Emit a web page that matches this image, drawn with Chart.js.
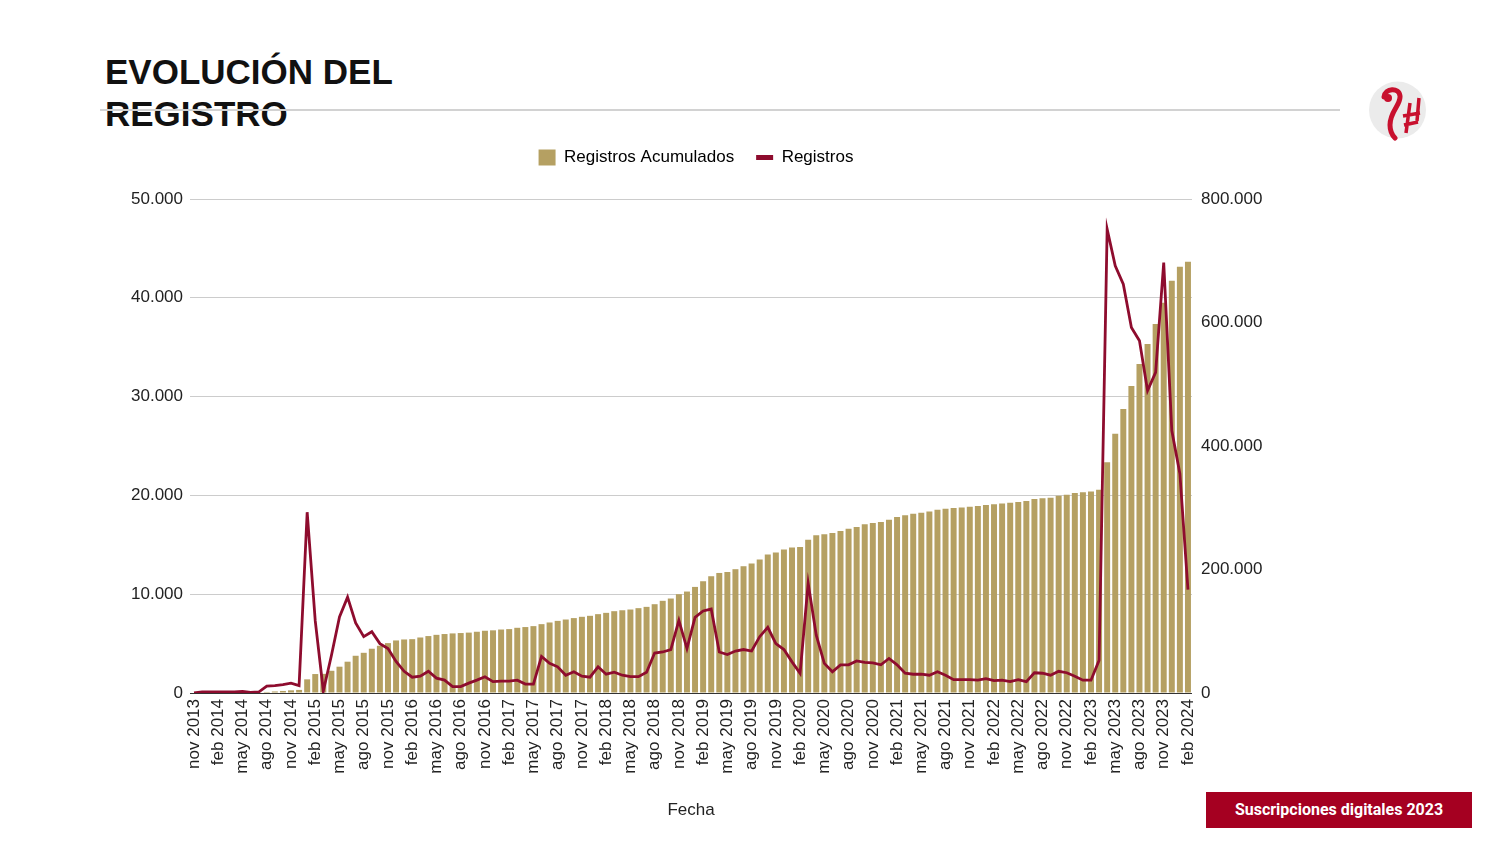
<!DOCTYPE html>
<html>
<head>
<meta charset="utf-8">
<script src="https://cdn.jsdelivr.net/npm/chart.js@4.4.1/dist/chart.umd.min.js"></script>
<style>
body { margin: 0; width: 1500px; height: 844px; background: #fff; position: relative; overflow: hidden; font-family: "Liberation Sans", Arial, sans-serif; }
#title { position: absolute; left: 105px; top: 51px; font-weight: bold; font-size: 35px; line-height: 42px; color: #111; }
#rule { position: absolute; left: 100px; top: 109px; width: 1240px; height: 2px; background: #d2d2d2; }
#wrap { position: absolute; left: 100px; top: 127px; width: 1192px; height: 703px; }
#tag { position: absolute; left: 1206px; top: 792px; width: 266px; height: 36px; background: #a50021; color: #fff; font: bold 16px Roboto, sans-serif; line-height: 36px; text-align: center; }
#logo { position: absolute; left: 1368px; top: 81px; }
</style>
</head>
<body>
<div id="title">EVOLUCIÓN DEL<br>REGISTRO</div>
<div id="rule"></div>
<svg id="logo" width="60" height="60">
  <circle cx="29.5" cy="29" r="28.5" fill="#ebebeb"/>
  <path d="M16 16 C17 7 31 6 32 15 C33 24 22 30 22 44 C22 50 24 54 27 57" stroke="#c8102e" stroke-width="5" fill="none" stroke-linecap="round"/>
  <circle cx="20" cy="17" r="4" fill="#c8102e"/>
  <path d="M42 22 L38 52 M51 17 L49 40 M35 35 L52 32 M36 44 L50 41" stroke="#c8102e" stroke-width="3.5" fill="none"/>
</svg>
<div id="wrap"><canvas id="chart" width="1192" height="703"></canvas></div>
<div id="tag">Suscripciones digitales 2023</div>

<script>
'use strict';

var ctx = document.getElementById('chart').getContext('2d');

// months nov 2013 .. feb 2024
var labels = [
  'nov 2013', 'dic 2013',
  'ene 2014', 'feb 2014', 'mar 2014', 'abr 2014', 'may 2014', 'jun 2014', 'jul 2014', 'ago 2014', 'sep 2014', 'oct 2014', 'nov 2014', 'dic 2014',
  'ene 2015', 'feb 2015', 'mar 2015', 'abr 2015', 'may 2015', 'jun 2015', 'jul 2015', 'ago 2015', 'sep 2015', 'oct 2015', 'nov 2015', 'dic 2015',
  'ene 2016', 'feb 2016', 'mar 2016', 'abr 2016', 'may 2016', 'jun 2016', 'jul 2016', 'ago 2016', 'sep 2016', 'oct 2016', 'nov 2016', 'dic 2016',
  'ene 2017', 'feb 2017', 'mar 2017', 'abr 2017', 'may 2017', 'jun 2017', 'jul 2017', 'ago 2017', 'sep 2017', 'oct 2017', 'nov 2017', 'dic 2017',
  'ene 2018', 'feb 2018', 'mar 2018', 'abr 2018', 'may 2018', 'jun 2018', 'jul 2018', 'ago 2018', 'sep 2018', 'oct 2018', 'nov 2018', 'dic 2018',
  'ene 2019', 'feb 2019', 'mar 2019', 'abr 2019', 'may 2019', 'jun 2019', 'jul 2019', 'ago 2019', 'sep 2019', 'oct 2019', 'nov 2019', 'dic 2019',
  'ene 2020', 'feb 2020', 'mar 2020', 'abr 2020', 'may 2020', 'jun 2020', 'jul 2020', 'ago 2020', 'sep 2020', 'oct 2020', 'nov 2020', 'dic 2020',
  'ene 2021', 'feb 2021', 'mar 2021', 'abr 2021', 'may 2021', 'jun 2021', 'jul 2021', 'ago 2021', 'sep 2021', 'oct 2021', 'nov 2021', 'dic 2021',
  'ene 2022', 'feb 2022', 'mar 2022', 'abr 2022', 'may 2022', 'jun 2022', 'jul 2022', 'ago 2022', 'sep 2022', 'oct 2022', 'nov 2022', 'dic 2022',
  'ene 2023', 'feb 2023', 'mar 2023', 'abr 2023', 'may 2023', 'jun 2023', 'jul 2023', 'ago 2023', 'sep 2023', 'oct 2023', 'nov 2023', 'dic 2023',
  'ene 2024', 'feb 2024'
];

// Registros (monthly, left axis)
var registros = [
  0, 100,
  100, 100, 100, 100, 150, 50, 100, 700, 750, 850, 1000, 750,
  18300, 7300, 200, 3800, 7700, 9700, 7100, 5700, 6200, 5000, 4500, 3200,
  2200, 1600, 1700, 2200, 1500, 1300, 650, 650, 1000, 1300, 1650, 1150,
  1200, 1200, 1300, 900, 900, 3700, 3000, 2650, 1800, 2150, 1700, 1600,
  2650, 1900, 2100, 1800, 1650, 1650, 2100, 4050, 4150, 4400, 7350, 4500,
  7650, 8300, 8500, 4150, 3900, 4250, 4400, 4250, 5700, 6650, 5000, 4400,
  3150, 2000, 11100, 5850, 3000, 2150, 2850, 2850, 3250, 3100, 3050, 2850,
  3500, 2850, 2000, 1900, 1900, 1800, 2150, 1800, 1350, 1350, 1350, 1300,
  1450, 1250, 1300, 1150, 1350, 1150, 2050, 2000, 1800, 2200, 2050, 1700,
  1300, 1300, 3300, 46950, 43230, 41380, 37000, 35650, 30600, 32450, 43570, 26570,
  22200, 10470
];

// Registros Acumulados (right axis)
var acumulados = [
  0, 100,
  300, 400, 500, 600, 800, 850, 1000, 1700, 2500, 3300, 4300, 5000,
  22100, 30700, 31000, 36000, 42600, 50700, 60300, 65100, 71700, 76500, 80800, 85100,
  86700, 87200, 89900, 92200, 94200, 95500, 96500, 97100, 97800, 99200, 100800, 101500,
  102800, 103500, 105600, 106800, 108300, 111500, 114200, 116800, 119000, 121300, 123400, 125000,
  127700, 129800, 132500, 134000, 135200, 137400, 139500, 143800, 149300, 153000, 160000, 164300,
  171800, 181000, 189100, 194400, 196000, 200500, 205300, 209600, 216000, 224200, 227400, 232200,
  235500, 236500, 248300, 255400, 257000, 259000, 262200, 266100, 268800, 273100, 275200, 277100,
  280600, 285000, 287700, 290400, 292000, 294100, 296800, 298400, 299500, 300600, 301600, 302700,
  304500, 305500, 307000, 308000, 309300, 310900, 314100, 315200, 316300, 319500, 321100, 323700,
  325300, 326300, 329100, 373800, 419700, 460000, 497100, 532800, 565100, 597400, 632000, 667500,
  690100, 698200
];

var leftTicks = [0, 10000, 20000, 30000, 40000, 50000];
var rightTicks = [0, 200000, 400000, 600000, 800000];

var gold = '#b5a062';
var red = '#8e0c2e';

function fmt(v) {
  return String(v).replace(/\B(?=(\d{3})+(?!\d))/g, '.');
}

// extra room under the legend
var legendGap = {
  id: 'legendGap',
  beforeInit: function(chart) {
    var fit = chart.legend.fit;
    chart.legend.fit = function() {
      fit.bind(chart.legend)();
      this.height += 23;
    };
  }
};

new Chart(ctx, {
  type: 'bar',
  data: {
    labels: labels,
    datasets: [
      {
        type: 'line',
        label: 'Registros',
        data: registros,
        yAxisID: 'y',
        borderColor: red,
        backgroundColor: red,
        borderWidth: 2.8,
        pointRadius: 0,
        tension: 0,
        order: 0
      },
      {
        type: 'bar',
        label: 'Registros Acumulados',
        data: acumulados,
        yAxisID: 'y1',
        backgroundColor: gold,
        barPercentage: 0.74,
        categoryPercentage: 1,
        order: 1
      }
    ]
  },
  options: {
    responsive: false,
    animation: false,
    layout: { padding: 0 },
    plugins: {
      tooltip: { enabled: false },
      legend: {
        display: true,
        position: 'top',
        labels: {
          usePointStyle: true,
          pointStyleWidth: 17,
          boxHeight: 16,
          padding: 22,
          color: '#222',
          font: { family: '"Liberation Sans", Arial, sans-serif', size: 17 },
          generateLabels: function() {
            return [
              { text: 'Registros Acumulados', fillStyle: gold, strokeStyle: gold, lineWidth: 0, pointStyle: 'rect', datasetIndex: 1 },
              { text: 'Registros', fillStyle: red, strokeStyle: red, lineWidth: 5, pointStyle: 'line', datasetIndex: 0 }
            ];
          }
        }
      }
    },
    scales: {
      x: {
        grid: { display: false, drawTicks: false },
        border: { display: false },
        ticks: {
          autoSkip: false,
          minRotation: 90,
          maxRotation: 90,
          padding: 6,
          color: '#222',
          font: { family: '"Liberation Sans", Arial, sans-serif', size: 17 },
          callback: function(v, i) { return i % 3 === 0 ? labels[i] : ''; }
        },
        title: {
          display: true,
          text: 'Fecha',
          color: '#222',
          font: { family: '"Liberation Sans", Arial, sans-serif', size: 17 },
          padding: { top: 4, bottom: 9 }
        },
        afterFit: function(s) { s.height = 137; }
      },
      y: {
        position: 'left',
        min: 0,
        max: 50000,
        afterBuildTicks: function(s) { s.ticks = leftTicks.map(function(v) { return { value: v }; }); },
        grid: {
          drawTicks: false,
          color: function(c) { return c.tick && c.tick.value === 0 ? '#333' : '#cccccc'; },
          lineWidth: 1
        },
        border: { display: false },
        ticks: {
          padding: 7,
          color: '#222',
          font: { family: '"Liberation Sans", Arial, sans-serif', size: 17 },
          callback: function(v) { return fmt(v); }
        },
        afterFit: function(s) { s.width = 90; }
      },
      y1: {
        position: 'right',
        min: 0,
        max: 800000,
        afterBuildTicks: function(s) { s.ticks = rightTicks.map(function(v) { return { value: v }; }); },
        grid: { drawOnChartArea: false, drawTicks: false },
        border: { display: false },
        ticks: {
          padding: 9,
          color: '#222',
          font: { family: '"Liberation Sans", Arial, sans-serif', size: 17 },
          callback: function(v) { return fmt(v); }
        },
        afterFit: function(s) { s.width = 100; }
      }
    }
  },
  plugins: [legendGap]
});
</script>
</body>
</html>
